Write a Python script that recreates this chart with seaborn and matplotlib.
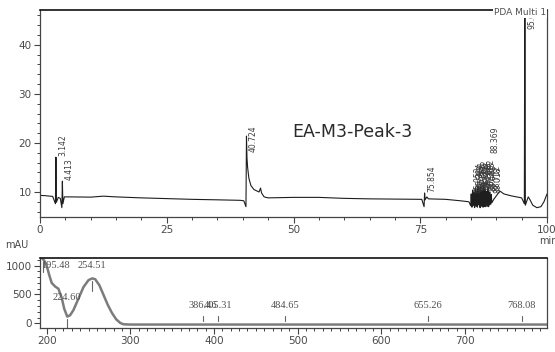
import numpy as np
import pandas as pd
import matplotlib
matplotlib.use("Agg")
import matplotlib.pyplot as plt
from matplotlib.ticker import MultipleLocator
import seaborn as sns

# ---- chromatogram: baseline points (min, mAU) ----
base_time = [0.0, 1.0, 2.5, 3.6, 4.0, 4.8, 6.0, 10.0, 12.5, 15.0, 20.0, 25.0, 30.0,
             35.0, 39.5, 40.2, 40.95, 41.2, 41.6, 42.2, 42.8, 43.2, 43.5, 43.7, 44.2,
             45.0, 50.0, 55.0, 60.0, 65.0, 70.0, 75.3, 76.3, 76.6, 80.0, 83.0, 84.6,
             89.5, 90.7, 91.5, 93.0, 95.0, 96.3, 96.6, 97.2, 98.0, 98.8, 99.4, 100.0]
base_mau = [9.3, 9.25, 9.1, 8.9, 8.7, 9.0, 9.0, 8.95, 9.15, 9.0, 8.8, 8.65, 8.5,
            8.4, 8.3, 8.2, 15.0, 12.8, 11.3, 10.5, 10.2, 10.0, 10.8, 9.8, 9.0,
            8.8, 8.9, 8.9, 8.7, 8.6, 8.55, 8.5, 9.0, 8.6, 8.5, 8.2, 8.0,
            8.5, 10.2, 9.6, 9.2, 8.8, 9.0, 8.5, 7.3, 6.8, 7.0, 8.0, 9.6]

# ---- detected peaks: retention time, apex, foot before / after ----
peak_rt = [3.142, 4.413, 40.724, 75.854,
           85.052, 85.314, 85.583, 85.841, 86.117, 86.392, 86.658, 86.931,
           87.208, 87.482, 87.763, 88.041, 88.369, 88.712, 89.018, 95.632]
peak_height = [17.1, 12.2, 21.4, 9.8,
               9.6, 10.4, 9.9, 10.8, 10.2, 11.0, 10.5, 10.9,
               10.3, 11.2, 10.6, 10.1, 10.9, 10.0, 9.5, 60.0]
peak_foot_pre = [7.6, 6.8, 7.0, 7.0,
                 7.2, 6.9, 7.3, 6.8, 7.1, 6.9, 7.4, 6.8,
                 7.2, 6.9, 7.3, 7.0, 7.1, 7.4, 7.5, 7.6]
peak_foot_post = [7.9, 7.6, 17.0, 8.4,
                  7.0, 7.3, 6.9, 7.2, 7.0, 7.4, 6.9, 7.1,
                  7.3, 7.0, 7.2, 7.4, 7.0, 7.5, 7.8, 7.3]

# ---- UV spectrum of the selected peak (nm, mAU) ----
wavelength = [195, 197, 200, 203, 206, 210, 214, 218, 221, 224.6, 228, 232, 238,
              244, 250, 254.51, 258, 263, 268, 273, 278, 283, 288, 292, 300,
              400, 500, 600, 700, 800]
absorbance = [1120, 1090, 1000, 840, 700, 640, 600, 440, 250, 115, 140, 230, 430,
              630, 750, 780, 765, 660, 490, 320, 180, 70, 5, -18, -22,
              -22, -22, -22, -22, -22]
spectrum_labels = [195.48, 254.51, 224.60, 386.46, 405.31, 484.65, 655.26, 768.08]

sample_name = "EA-M3-Peak-3"
channel_name = "PDA Multi 1"

# assemble chromatogram trace
t_pts = list(base_time)
v_pts = list(base_mau)
for rt, h, a, b in zip(peak_rt, peak_height, peak_foot_pre, peak_foot_post):
    t_pts += [rt - 0.1, rt, rt + 0.1]
    v_pts += [a, h, b]
chrom = pd.DataFrame({"time": t_pts, "mAU": v_pts}).sort_values("time")
spec = pd.DataFrame({"nm": wavelength, "mAU": absorbance})

sns.set_style("white")
plt.rcParams["font.family"] = ["DejaVu Sans"]

TXT = "#4a4a4a"
fig = plt.figure(figsize=(5.55, 3.52), dpi=100)
ax1 = fig.add_axes([40 / 555, 1 - 217 / 352, 507 / 555, 207 / 352])
ax2 = fig.add_axes([40 / 555, 1 - 328 / 352, 507 / 555, 70 / 352])

# chromatogram
sns.lineplot(data=chrom, x="time", y="mAU", ax=ax1, sort=False, estimator=None,
             color="#1e1e1e", linewidth=0.8)
ax1.set_xlim(0, 100)
ax1.set_ylim(4.9, 47.1)
ax1.set_xticks([0, 25, 50, 75, 100])
ax1.set_yticks([10, 20, 30, 40])
ax1.xaxis.set_minor_locator(MultipleLocator(5))
ax1.yaxis.set_minor_locator(MultipleLocator(2))

label_bottom = {40.724: 18.2, 88.369: 18.0, 95.632: 43.3}
for rt, h in zip(peak_rt, peak_height):
    yb = label_bottom.get(rt, h + 0.2)
    ax1.text(rt + 1.4, yb, f"{rt:.3f}", rotation=90, ha="center", va="bottom",
             fontsize=5.5, color="#3a3a3a", clip_on=True)

ax1.text(0.497, 0.413, sample_name, transform=ax1.transAxes, fontsize=12.5,
         color="#2a2a2a", ha="left", va="center")
ax1.text(0.998, 0.987, channel_name, transform=ax1.transAxes, fontsize=6.5,
         color="#505050", ha="right", va="center", zorder=5,
         bbox=dict(facecolor="white", edgecolor="none", pad=0.6))

# spectrum
sns.lineplot(data=spec, x="nm", y="mAU", ax=ax2, sort=False, estimator=None,
             color="#7c7c7c", linewidth=1.8)
ax2.set_xlim(192, 798)
ax2.set_ylim(-82, 1134)
ax2.set_xticks([200, 300, 400, 500, 600, 700])
ax2.set_yticks([0, 500, 1000])
ax2.xaxis.set_minor_locator(MultipleLocator(10))
ax2.yaxis.set_minor_locator(MultipleLocator(100))

extrema = {195.48, 254.51, 224.60}
for wl in spectrum_labels:
    cv = float(np.interp(wl, wavelength, absorbance))
    ty = min(cv + 330, 1010)
    ha = "left" if wl < 200 else "center"
    tx = 193 if wl < 200 else wl
    ax2.text(tx, ty, f"{wl:.2f}", fontsize=7.5, color="#505050", ha=ha, va="center",
             family="Liberation Serif")
    if wl in extrema:
        ax2.plot([wl, wl], [cv - 220, cv - 40], color="#666666", lw=0.8)
    else:
        ax2.plot([wl, wl], [cv + 60, cv + 150], color="#666666", lw=0.8)

for ax in (ax1, ax2):
    ax.set_xlabel("")
    ax.set_ylabel("")
    for side in ("left", "right", "bottom"):
        ax.spines[side].set_color("#444444")
        ax.spines[side].set_linewidth(0.9)
    ax.spines["top"].set_color("#111111")
    ax.spines["top"].set_linewidth(1.2)
    ax.tick_params(which="major", direction="out", length=4, width=0.8,
                   color="#444444", labelsize=7.5, labelcolor=TXT, pad=2,
                   bottom=True, left=True)
    ax.tick_params(which="minor", direction="out", length=2.5, width=0.7,
                   color="#444444", bottom=True, left=True)

fig.text(5 / 555, 1 - 245 / 352, "mAU", fontsize=7, color=TXT, ha="left", va="center")
fig.text(539 / 555, 1 - 241 / 352, "min", fontsize=7, color=TXT, ha="left", va="center")

fig.savefig("out.png", dpi=100, facecolor="white")
